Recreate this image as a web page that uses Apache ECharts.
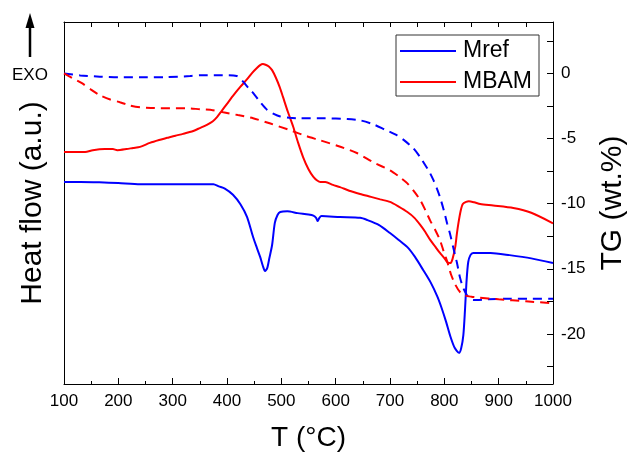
<!DOCTYPE html>
<html>
<head>
<meta charset="utf-8">
<script src="https://cdn.jsdelivr.net/npm/echarts@6/dist/echarts.min.js"></script>
<style>
  html, body { margin: 0; padding: 0; background: #fff; }
  #chart { width: 627px; height: 455px; }
</style>
</head>
<body>
<div id="chart"></div>
<script>
// Temperature axis (°C)
const tMin = 100, tMax = 1000;

// DSC heat flow, Mref (a.u.)
const tDscRef = [100,130,165,200,240,300,350,375,385,396,411,425,437,448,455,461,466,470,474,478,483,488,493,498,511,530,550,559,564,567,570,574,608,645,658,680,700,716,732,746,761,775,787,795,803,811,819,827,831,835,838,841,844,848,853,870,885,920,960,1000];
const hfRef   = [55.8,55.8,55.7,55.5,55.2,55.2,55.2,55.2,54.6,54.0,52.3,49.6,46.1,40.6,37.6,35.1,32.6,31.2,32.0,34.8,38.4,44.5,46.7,47.5,47.7,47.2,46.8,46.5,45.9,45.0,45.9,46.4,46.1,45.9,45.3,43.9,41.7,39.8,37.8,35.1,31.5,28.0,24.2,21.0,17.3,13.2,10.0,8.6,9.9,13.5,20.4,28.7,33.7,35.6,36.2,36.2,36.2,35.6,34.7,33.4];

// DSC heat flow, MBAM (a.u.)
const tDscBam = [100,139,153,175,190,198,215,227,240,258,275,290,305,319,338,350,363,374,382,390,400,411,424,437,446,455,461,466,471,477,483,490,497,503,512,522,531,540,550,559,566,572,581,595,608,625,645,665,682,700,716,732,745,756,765,774,783,792,800,805,811,815,820,823,826,830,834,840,845,855,866,890,927,960,1000];
const hfBam   = [64.1,64.1,64.6,64.9,64.9,64.6,64.9,65.2,65.5,66.6,67.4,68.0,68.6,69.1,69.9,70.7,71.6,72.6,73.8,75.4,77.4,79.6,82.0,84.2,85.9,87.3,88.1,88.4,88.2,87.7,86.7,84.6,82.0,79.3,75.2,71.0,66.6,62.7,59.3,57.2,56.2,55.8,55.8,55.0,54.4,53.4,52.5,51.7,51.0,50.3,49.0,47.5,45.9,43.9,42.0,39.8,38.0,36.2,34.8,33.7,33.4,34.5,37.8,41.4,44.5,47.8,49.7,50.3,50.5,50.2,49.7,49.3,48.6,47.3,44.4];

// TG mass change, Mref (wt.%)
const tTgRef = [100,130,166,200,240,290,332,350,385,418,430,441,448,463,474,486,498,515,535,580,621,645,669,690,713,728,743,755,765,773,780,786,792,799,805,811,816,823,829,835,842,848,853,880,920,960,1000];
const tgRef  = [0,-0.15,-0.25,-0.3,-0.3,-0.28,-0.2,-0.13,-0.13,-0.2,-0.65,-1.2,-1.5,-2.3,-2.8,-3.1,-3.3,-3.4,-3.45,-3.45,-3.5,-3.6,-3.9,-4.3,-4.75,-5.2,-5.75,-6.4,-7.05,-7.6,-8.2,-8.8,-9.5,-10.5,-11.5,-12.4,-13.3,-14.5,-15.7,-16.5,-17.05,-17.3,-17.4,-17.35,-17.3,-17.3,-17.3];

// TG mass change, MBAM (wt.%)
const tTgBam = [100,115,133,150,166,185,203,220,240,260,277,300,326,350,374,393,420,448,480,516,545,571,610,640,669,700,716,732,745,756,765,774,783,792,799,805,812,820,829,838,850,861,900,950,1000];
const tgBam  = [0,-0.35,-0.75,-1.25,-1.67,-2.0,-2.21,-2.45,-2.6,-2.65,-2.67,-2.67,-2.67,-2.75,-2.82,-2.98,-3.2,-3.44,-3.85,-4.36,-4.8,-5.13,-5.65,-6.13,-6.82,-7.44,-7.9,-8.44,-9.1,-9.75,-10.5,-11.3,-12.0,-12.8,-13.7,-14.4,-15.4,-16.2,-16.8,-17.05,-17.15,-17.2,-17.35,-17.5,-17.65];

// TG axis ticks and labels
const tgTickValues  = [2.5,0,-2.5,-5,-7.5,-10,-12.5,-15,-17.5,-20,-22.5];
const tgLabelValues = [0,-5,-10,-15,-20];

const FONT = '"Liberation Sans", Arial, Helvetica, sans-serif';
const BLUE = '#0000ff';
const RED = '#ff0000';

function pairs(xs, ys) { return xs.map((x, i) => [x, ys[i]]); }

const chart = echarts.init(document.getElementById('chart'), null, { renderer: 'canvas' });

const axisLine = { show: true, onZero: false, lineStyle: { color: '#000', width: 1 } };

chart.setOption({
  animation: false,
  backgroundColor: '#fff',
  grid: { left: 64, right: 74, top: 22, bottom: 71, containLabel: false, outerBoundsMode: 'none' },
  legend: {
    data: ['Mref', 'MBAM'],
    orient: 'vertical',
    left: 396, top: 35,
    icon: 'rect',
    itemWidth: 56, itemHeight: 2, itemGap: 7,
    padding: [4, 7, 2, 4],
    borderColor: '#333', borderWidth: 1, borderRadius: 0,
    selectedMode: false,
    textStyle: { fontSize: 23, color: '#000', fontFamily: FONT, lineHeight: 24, padding: [0, 0, 0, 2] }
  },
  xAxis: [
    {
      type: 'value', min: tMin, max: tMax, interval: 100, position: 'bottom',
      axisLine: axisLine,
      axisTick: { show: true, inside: true, length: 6, lineStyle: { color: '#000' } },
      minorTick: { show: true, splitNumber: 2, length: 3, lineStyle: { color: '#000' } },
      axisLabel: { color: '#000', fontSize: 17, fontFamily: FONT, margin: 9, formatter: v => String(v) },
      splitLine: { show: false },
      name: 'T (°C)', nameLocation: 'middle', nameGap: 40,
      nameTextStyle: { fontSize: 28, color: '#000', fontFamily: FONT }
    },
    {
      type: 'value', min: tMin, max: tMax, interval: 50, position: 'top',
      axisLine: axisLine,
      axisTick: { show: true, inside: true, length: 5, lineStyle: { color: '#000' } },
      axisLabel: { show: false },
      splitLine: { show: false }
    }
  ],
  yAxis: [
    {
      type: 'value', min: 0, max: 100, position: 'left',
      axisLine: axisLine,
      axisTick: { show: false },
      axisLabel: { show: false },
      splitLine: { show: false },
      name: 'Heat flow (a.u.)', nameLocation: 'middle', nameGap: 16,
      nameTextStyle: { fontSize: 30, color: '#000', fontFamily: FONT }
    },
    {
      type: 'value', min: -23.85, max: 3.95, position: 'right',
      axisLine: axisLine,
      axisTick: { show: true, inside: true, length: 6, customValues: tgTickValues, lineStyle: { color: '#000' } },
      axisLabel: { color: '#000', fontSize: 17, fontFamily: FONT, margin: 8, customValues: tgLabelValues },
      splitLine: { show: false },
      name: 'TG (wt.%)', nameLocation: 'middle', nameGap: 45,
      nameTextStyle: { fontSize: 30, color: '#000', fontFamily: FONT }
    }
  ],
  graphic: [
    { type: 'text', left: 12, top: 67, style: { text: 'EXO', fontSize: 17, fontFamily: FONT, fill: '#000' } },
    { type: 'line', shape: { x1: 30, y1: 57, x2: 30, y2: 24 }, style: { stroke: '#000', lineWidth: 2.5 } },
    { type: 'polygon', shape: { points: [[30, 13], [25.5, 28], [34.5, 28]] }, style: { fill: '#000' } }
  ],
  series: [
    {
      name: 'Mref', type: 'line', xAxisIndex: 0, yAxisIndex: 0,
      data: pairs(tDscRef, hfRef), showSymbol: false, smooth: 0.25,
      color: BLUE, lineStyle: { color: BLUE, width: 2 }
    },
    {
      name: 'MBAM', type: 'line', xAxisIndex: 0, yAxisIndex: 0,
      data: pairs(tDscBam, hfBam), showSymbol: false, smooth: 0.25,
      color: RED, lineStyle: { color: RED, width: 2 }
    },
    {
      name: 'Mref TG', type: 'line', xAxisIndex: 0, yAxisIndex: 1,
      data: pairs(tTgRef, tgRef), showSymbol: false, smooth: 0.25,
      color: BLUE, lineStyle: { color: BLUE, width: 2, type: [9, 6] }
    },
    {
      name: 'MBAM TG', type: 'line', xAxisIndex: 0, yAxisIndex: 1,
      data: pairs(tTgBam, tgBam), showSymbol: false, smooth: 0.25,
      color: RED, lineStyle: { color: RED, width: 2, type: [9, 6] }
    }
  ]
});
</script>
</body>
</html>
